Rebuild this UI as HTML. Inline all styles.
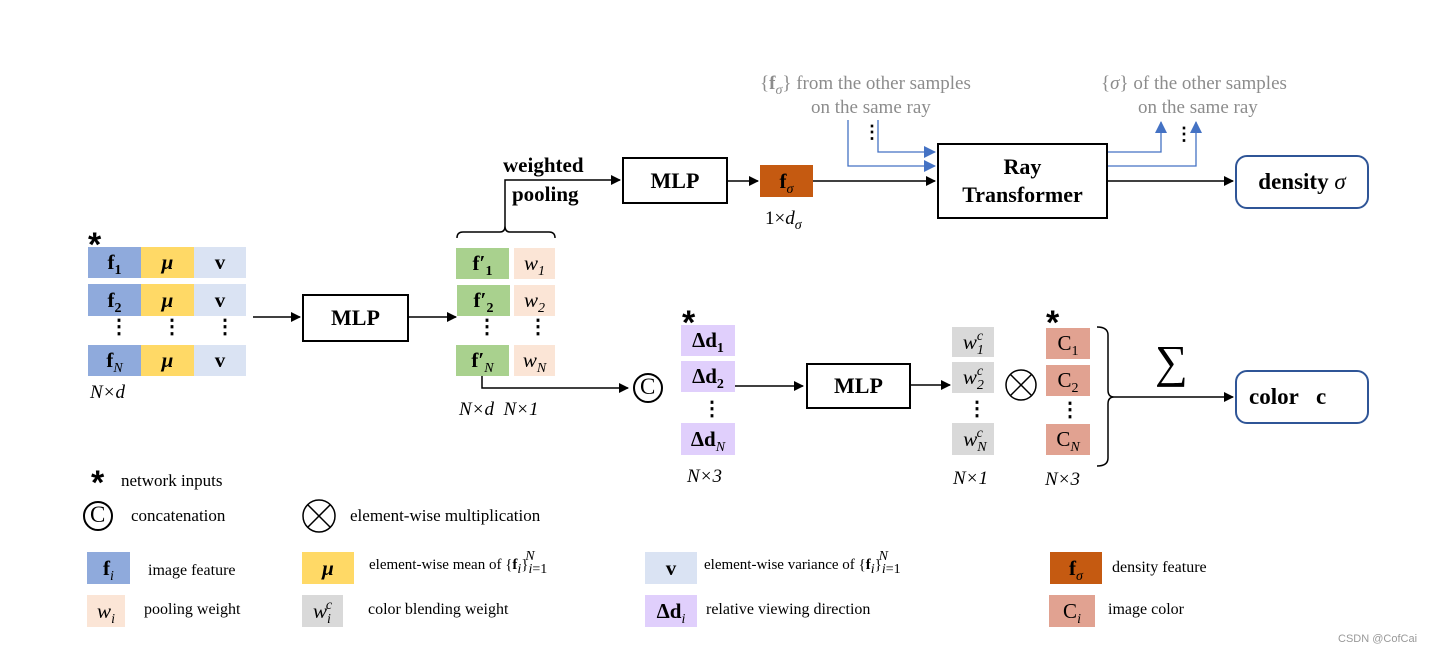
<!DOCTYPE html>
<html><head><meta charset="utf-8"><style>
body{margin:0;background:#fff;}
#c{position:relative;width:1429px;height:654px;overflow:hidden;font-family:"Liberation Serif",serif;color:#000;}
.b{position:absolute;display:flex;align-items:center;justify-content:center;font-weight:bold;font-size:21px;}
.t{position:absolute;white-space:nowrap;}
.i{font-style:italic;font-weight:normal;}
sub,sup{font-size:14px;line-height:0;}
.box{position:absolute;border:2px solid #000;box-sizing:border-box;display:flex;align-items:center;justify-content:center;font-weight:bold;font-size:22px;text-align:center;line-height:28px;}
.rb{position:absolute;border:2px solid #2f5597;border-radius:12px;box-sizing:border-box;display:flex;align-items:center;justify-content:center;font-weight:bold;font-size:23px;}
.g{color:#8c8c8c;font-size:19px;}
.lg{font-size:17px;}
.ast{position:absolute;font-family:"Liberation Sans",sans-serif;font-weight:bold;font-size:34px;line-height:34px;}
</style></head><body><div id="c">
<svg width="1429" height="654" style="position:absolute;left:0;top:0">
<defs>
<marker id="a" markerWidth="10" markerHeight="10" refX="9" refY="5" orient="auto" markerUnits="userSpaceOnUse"><path d="M0,0 L10,5 L0,10z" fill="#000"/></marker>
<marker id="bl" markerWidth="12" markerHeight="12" refX="11" refY="6" orient="auto" markerUnits="userSpaceOnUse"><path d="M0,0 L12,6 L0,12z" fill="#4472c4"/></marker>
</defs>
<g stroke="#000" stroke-width="1.5" fill="none">
<line x1="253" y1="317" x2="300" y2="317" marker-end="url(#a)"/>
<line x1="409" y1="317" x2="456" y2="317" marker-end="url(#a)"/>
<path d="M457,238 Q457,232 463,232 L500,232 Q505,232 505,226 Q505,232 510,232 L549,232 Q555,232 555,238"/>
<path d="M505,226 L505,180 L620,180" marker-end="url(#a)"/>
<line x1="728" y1="181" x2="758" y2="181" marker-end="url(#a)"/>
<line x1="813" y1="181" x2="935" y2="181" marker-end="url(#a)"/>
<line x1="1108" y1="181" x2="1233" y2="181" marker-end="url(#a)"/>
<path d="M482,376 L482,388 L628,388" marker-end="url(#a)"/>
<line x1="735" y1="386" x2="803" y2="386" marker-end="url(#a)"/>
<line x1="911" y1="385" x2="950" y2="385" marker-end="url(#a)"/>
<path d="M1097,327 Q1108,327 1108,335 L1108,390 Q1108,397 1114,397 Q1108,397 1108,404 L1108,458 Q1108,466 1097,466"/>
<line x1="1114" y1="397" x2="1233" y2="397" marker-end="url(#a)"/>
<circle cx="648" cy="388" r="14" stroke-width="2"/>
<circle cx="1021" cy="385" r="15"/>
<line x1="1010" y1="374" x2="1032" y2="396"/><line x1="1032" y1="374" x2="1010" y2="396"/>
<circle cx="98" cy="516" r="14" stroke-width="2"/>
<circle cx="319" cy="516" r="16"/>
<line x1="308" y1="505" x2="330" y2="527"/><line x1="330" y1="505" x2="308" y2="527"/>
</g>
<g stroke="#4472c4" stroke-width="1.3" fill="none">
<path d="M848,120 L848,166 L935,166" marker-end="url(#bl)"/>
<path d="M878,120 L878,152 L935,152" marker-end="url(#bl)"/>
<path d="M1108,152 L1161,152 L1161,122" marker-end="url(#bl)"/>
<path d="M1108,166 L1196,166 L1196,122" marker-end="url(#bl)"/>
</g>
</svg>
<div class="ast" style="left:88px;top:228px">*</div>
<div class="b" style="left:88px;top:247px;width:53px;height:31px;background:#8faadc"><span>f<sub>1</sub></span></div>
<div class="b" style="left:141px;top:247px;width:53px;height:31px;background:#ffd966"><i>μ</i></div>
<div class="b" style="left:194px;top:247px;width:52px;height:31px;background:#dae3f3">v</div>
<div class="b" style="left:88px;top:284px;width:53px;height:32px;background:#8faadc"><span>f<sub>2</sub></span></div>
<div class="b" style="left:141px;top:284px;width:53px;height:32px;background:#ffd966"><i>μ</i></div>
<div class="b" style="left:194px;top:284px;width:52px;height:32px;background:#dae3f3">v</div>
<div class="t" style="left:109px;top:314px;font-size:20px;font-weight:bold">⋮</div>
<div class="t" style="left:162px;top:314px;font-size:20px;font-weight:bold">⋮</div>
<div class="t" style="left:215px;top:314px;font-size:20px;font-weight:bold">⋮</div>
<div class="b" style="left:88px;top:345px;width:53px;height:31px;background:#8faadc"><span>f<sub class="i">N</sub></span></div>
<div class="b" style="left:141px;top:345px;width:53px;height:31px;background:#ffd966"><i>μ</i></div>
<div class="b" style="left:194px;top:345px;width:52px;height:31px;background:#dae3f3">v</div>
<div class="t i" style="left:90px;top:382px;font-family:'Liberation Serif',serif;font-size:19px">N×d</div>
<div class="box" style="left:302px;top:294px;width:107px;height:48px">MLP</div>
<div class="b" style="left:456px;top:248px;width:53px;height:31px;background:#a9d18e"><span>f′<sub>1</sub></span></div>
<div class="b" style="left:514px;top:248px;width:41px;height:31px;background:#fbe5d6"><span class="i">w<sub>1</sub></span></div>
<div class="b" style="left:457px;top:285px;width:53px;height:31px;background:#a9d18e"><span>f′<sub>2</sub></span></div>
<div class="b" style="left:514px;top:285px;width:41px;height:31px;background:#fbe5d6"><span class="i">w<sub>2</sub></span></div>
<div class="t" style="left:477px;top:314px;font-size:20px;font-weight:bold">⋮</div>
<div class="t" style="left:528px;top:314px;font-size:20px;font-weight:bold">⋮</div>
<div class="b" style="left:456px;top:345px;width:53px;height:31px;background:#a9d18e"><span>f′<sub class="i">N</sub></span></div>
<div class="b" style="left:514px;top:345px;width:41px;height:31px;background:#fbe5d6"><span class="i">w<sub>N</sub></span></div>
<div class="t i" style="left:459px;top:399px;font-size:19px">N×d&nbsp;&nbsp;N×1</div>
<div class="t" style="left:503px;top:153px;font-size:21px;font-weight:bold">weighted</div>
<div class="t" style="left:512px;top:182px;font-size:21px;font-weight:bold">pooling</div>
<div class="box" style="left:622px;top:157px;width:106px;height:47px">MLP</div>
<div class="b" style="left:760px;top:165px;width:53px;height:32px;background:#c55a11"><span>f<sub class="i">σ</sub></span></div>
<div class="t" style="left:765px;top:208px;font-size:19px">1×<i>d<sub>σ</sub></i></div>
<div class="box" style="left:937px;top:143px;width:171px;height:76px">Ray<br>Transformer</div>
<div class="rb" style="left:1235px;top:155px;width:134px;height:54px"><span>density&nbsp;<i style="font-weight:normal">σ</i></span></div>
<div class="t g" style="left:760px;top:73px">{<b>f</b><sub class="i">σ</sub>} from the other samples</div>
<div class="t g" style="left:811px;top:97px">on the same ray</div>
<div class="t" style="left:863px;top:122px;font-size:18px;font-weight:bold">⋮</div>
<div class="t g" style="left:1101px;top:73px">{<i>σ</i>} of the other samples</div>
<div class="t g" style="left:1138px;top:97px">on the same ray</div>
<div class="t" style="left:1175px;top:124px;font-size:18px;font-weight:bold">⋮</div>
<div class="t" style="left:640px;top:374px;font-size:23px;font-family:'Liberation Serif',serif">C</div>
<div class="ast" style="left:682px;top:306px">*</div>
<div class="b" style="left:681px;top:325px;width:54px;height:31px;background:#e0cffc"><span>Δd<sub>1</sub></span></div>
<div class="b" style="left:681px;top:361px;width:54px;height:31px;background:#e0cffc"><span>Δd<sub>2</sub></span></div>
<div class="t" style="left:702px;top:396px;font-size:20px;font-weight:bold">⋮</div>
<div class="b" style="left:681px;top:423px;width:54px;height:32px;background:#e0cffc"><span>Δd<sub class="i">N</sub></span></div>
<div class="t i" style="left:687px;top:466px;font-size:19px">N×3</div>
<div class="box" style="left:806px;top:363px;width:105px;height:46px">MLP</div>
<div class="b" style="left:952px;top:327px;width:42px;height:30px;background:#d9d9d9"><span class="i">w<sub>1</sub><sup style="margin-left:-7px;vertical-align:9px">c</sup></span></div>
<div class="b" style="left:952px;top:362px;width:42px;height:31px;background:#d9d9d9"><span class="i">w<sub>2</sub><sup style="margin-left:-7px;vertical-align:9px">c</sup></span></div>
<div class="t" style="left:967px;top:396px;font-size:20px;font-weight:bold">⋮</div>
<div class="b" style="left:952px;top:423px;width:42px;height:32px;background:#d9d9d9"><span class="i">w<sub>N</sub><sup style="margin-left:-10px;vertical-align:9px">c</sup></span></div>
<div class="t i" style="left:953px;top:468px;font-size:19px">N×1</div>
<div class="ast" style="left:1046px;top:306px">*</div>
<div class="b" style="left:1046px;top:328px;width:44px;height:31px;background:#e1a291;font-weight:normal"><span>C<sub>1</sub></span></div>
<div class="b" style="left:1046px;top:365px;width:44px;height:31px;background:#e1a291;font-weight:normal"><span>C<sub>2</sub></span></div>
<div class="t" style="left:1060px;top:397px;font-size:20px;font-weight:bold">⋮</div>
<div class="b" style="left:1046px;top:424px;width:44px;height:31px;background:#e1a291;font-weight:normal"><span>C<sub class="i">N</sub></span></div>
<div class="t i" style="left:1045px;top:469px;font-size:19px">N×3</div>
<div class="t" style="left:1155px;top:335px;font-size:46px">∑</div>
<div class="rb" style="left:1235px;top:370px;width:134px;height:54px;justify-content:flex-start;padding-left:12px">color&nbsp;&nbsp;&nbsp;c</div>
<div class="ast" style="left:91px;top:466px">*</div>
<div class="t lg" style="left:121px;top:471px">network inputs</div>
<div class="t" style="left:90px;top:502px;font-size:23px">C</div>
<div class="t lg" style="left:131px;top:506px">concatenation</div>
<div class="t lg" style="left:350px;top:506px">element-wise multiplication</div>
<div class="b" style="left:87px;top:552px;width:43px;height:32px;background:#8faadc"><span>f<sub class="i">i</sub></span></div>
<div class="t" style="left:148px;top:562px;font-size:16px">image feature</div>
<div class="b" style="left:302px;top:552px;width:52px;height:32px;background:#ffd966"><i>μ</i></div>
<div class="t" style="left:369px;top:557px;font-size:15px">element-wise mean of {<b>f</b><sub class="i">i</sub>}<sub><i>i</i>=1</sub><sup style="margin-left:-22px;vertical-align:9px" class="i">N</sup></div>
<div class="b" style="left:645px;top:552px;width:52px;height:32px;background:#dae3f3">v</div>
<div class="t" style="left:704px;top:557px;font-size:15px">element-wise variance of {<b>f</b><sub class="i">i</sub>}<sub><i>i</i>=1</sub><sup style="margin-left:-22px;vertical-align:9px" class="i">N</sup></div>
<div class="b" style="left:1050px;top:552px;width:52px;height:32px;background:#c55a11"><span>f<sub class="i">σ</sub></span></div>
<div class="t" style="left:1112px;top:559px;font-size:16px">density feature</div>
<div class="b" style="left:87px;top:595px;width:38px;height:32px;background:#fbe5d6"><span class="i">w<sub>i</sub></span></div>
<div class="t" style="left:144px;top:601px;font-size:16px">pooling weight</div>
<div class="b" style="left:302px;top:595px;width:41px;height:32px;background:#d9d9d9"><span class="i">w<sub>i</sub><sup style="margin-left:-5px;vertical-align:9px">c</sup></span></div>
<div class="t" style="left:368px;top:601px;font-size:16px">color blending weight</div>
<div class="b" style="left:645px;top:595px;width:52px;height:32px;background:#e0cffc"><span>Δd<sub class="i">i</sub></span></div>
<div class="t" style="left:706px;top:601px;font-size:16px">relative viewing direction</div>
<div class="b" style="left:1049px;top:595px;width:46px;height:32px;background:#e1a291;font-weight:normal"><span>C<sub class="i">i</sub></span></div>
<div class="t" style="left:1108px;top:601px;font-size:16px">image color</div>
<div class="t" style="left:1338px;top:633px;font-size:11px;color:#999;font-family:'Liberation Sans',sans-serif">CSDN @CofCai</div>
</div></body></html>
